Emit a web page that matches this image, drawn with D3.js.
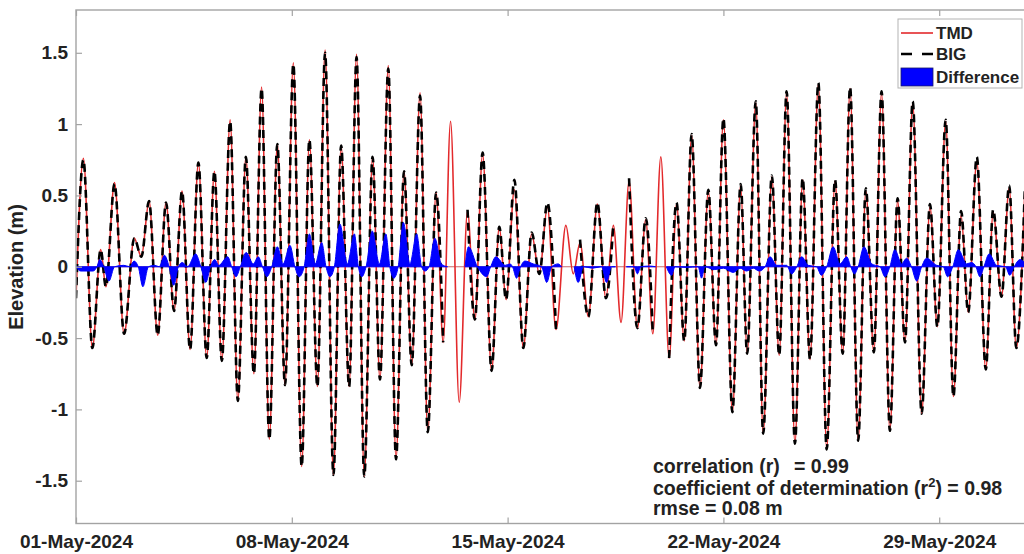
<!DOCTYPE html>
<html>
<head>
<meta charset="utf-8">
<script src="https://cdn.jsdelivr.net/npm/d3@7"></script>
<style>
  body { margin: 0; background: #fff; }
  svg { display: block; font-family: "Liberation Sans", Arial, sans-serif; }
</style>
</head>
<body>
<svg width="1024" height="554"></svg>
<script>
// times are days after 01-May-2024 00:00 (UTC)
extDay = [0.00,0.24,0.53,0.80,0.97,1.25,1.56,1.89,2.12,2.37,2.65,2.92,3.18,3.44,3.70,3.97,4.24,4.49,4.73,5.00,
  5.25,5.51,5.77,6.02,6.27,6.53,6.78,7.05,7.32,7.57,7.83,8.08,8.35,8.60,8.86,9.10,9.35,9.62,9.86,10.13,
  10.38,10.64,10.89,11.16,11.41,11.68,11.91,12.15,12.43,12.70,12.94,13.19,13.48,13.73,13.95,14.22,14.51,14.78,15.03,15.29,
  15.57,15.89,16.13,16.35,16.62,16.91,17.19,17.43,17.68,17.94,18.21,18.48,18.71,18.97,19.24,19.48,19.73,19.97,20.24,20.51,
  20.76,21.00,21.29,21.56,21.77,22.05,22.29,22.57,22.81,23.05,23.32,23.57,23.81,24.08,24.35,24.62,24.87,25.11,25.37,25.62,
  25.88,26.13,26.40,26.65,26.89,27.14,27.43,27.70,27.94,28.21,28.46,28.71,28.94,29.22,29.51,29.75,30.02,30.27,30.50,30.78];

tmdVal = [-0.22,0.76,-0.57,0.12,-0.14,0.59,-0.47,0.20,0.07,0.46,-0.48,0.45,-0.31,0.53,-0.58,0.73,-0.64,0.67,-0.66,1.03,
  -0.94,0.77,-0.75,1.26,-1.21,0.86,-0.83,1.43,-1.40,0.89,-0.84,1.52,-1.46,0.85,-0.84,1.49,-1.47,0.77,-0.79,1.41,
  -1.35,0.67,-0.69,1.22,-1.16,0.52,-0.53,1.02,-0.95,0.39,-0.37,0.79,-0.73,0.28,-0.23,0.54,-0.57,0.23,-0.05,0.42,
  -0.44,0.29,-0.05,0.17,-0.35,0.44,-0.22,0.29,-0.39,0.60,-0.43,0.33,-0.47,0.77,-0.64,0.44,-0.52,0.92,-0.85,0.53,
  -0.55,1.03,-1.02,0.57,-0.61,1.15,-1.17,0.63,-0.62,1.22,-1.24,0.61,-0.65,1.28,-1.28,0.60,-0.61,1.25,-1.22,0.53,
  -0.60,1.22,-1.15,0.46,-0.53,1.15,-1.03,0.42,-0.42,1.02,-0.91,0.36,-0.32,0.74,-0.72,0.38,-0.21,0.55,-0.57,0.55];

// null where the BIG record is missing
bigVal = [-0.22,0.75,-0.57,0.12,-0.14,0.58,-0.47,0.20,0.07,0.46,-0.48,0.45,-0.31,0.53,-0.58,0.73,-0.64,0.67,-0.66,1.02,
  -0.94,0.77,-0.75,1.25,-1.21,0.86,-0.83,1.42,-1.40,0.89,-0.84,1.50,-1.46,0.85,-0.84,1.47,-1.47,0.77,-0.79,1.39,
  -1.35,0.67,-0.69,1.20,-1.16,0.52,-0.53,null,null,0.40,-0.37,0.80,-0.73,0.28,-0.23,0.61,-0.57,0.24,-0.05,0.45,
  -0.44,null,null,0.19,-0.35,0.45,-0.22,0.30,null,0.62,-0.43,0.34,-0.47,null,-0.64,0.45,-0.52,0.93,-0.85,0.54,
  -0.55,1.04,-1.02,0.58,-0.61,1.16,-1.17,0.64,-0.62,1.23,-1.24,0.62,-0.65,1.29,-1.28,0.61,-0.61,1.26,-1.22,0.55,
  -0.60,1.23,-1.15,0.48,-0.53,1.16,-1.03,0.44,-0.42,1.03,-0.91,0.39,-0.32,0.77,-0.72,0.40,-0.21,0.57,-0.57,0.56];

diffDay = [0.00,0.15,0.55,0.68,0.77,0.90,1.07,1.25,1.55,1.75,1.88,2.02,2.17,2.35,2.55,2.70,2.87,3.02,3.17,3.32,
  3.45,3.62,3.88,4.05,4.21,4.36,4.50,4.63,4.92,5.05,5.19,5.33,5.52,5.75,5.91,6.05,6.19,6.35,6.53,6.72,
  6.94,7.10,7.24,7.40,7.57,7.76,7.97,8.11,8.24,8.38,8.56,8.80,9.03,9.16,9.27,9.41,9.61,9.84,10.05,10.18,
  10.31,10.45,10.62,10.83,11.05,11.21,11.32,11.45,11.64,11.85,12.05,12.30,12.62,12.73,13.02,13.32,13.45,13.62,13.92,14.08,
  14.16,14.29,14.42,14.56,14.83,15.10,15.27,15.43,15.64,15.75,16.00,16.16,16.29,16.46,16.75,17.05,17.21,17.37,17.50,17.68,
  17.85,18.10,18.21,18.32,18.60,18.80,18.97,19.15,19.32,19.43,19.80,20.18,20.29,20.40,20.70,21.00,21.32,21.54,21.75,21.97,
  22.16,22.35,22.51,22.73,23.05,23.21,23.38,23.54,23.75,24.02,24.18,24.35,24.56,24.78,25.00,25.13,25.25,25.37,25.56,25.81,
  26.08,26.24,26.40,26.56,26.78,26.94,27.10,27.27,27.43,27.59,27.92,28.13,28.27,28.44,28.62,28.89,29.05,29.19,29.32,29.45,
  29.62,29.86,30.15,30.29,30.43,30.62,30.80];

diffVal = [0,-0.03,-0.03,0,0.05,0,-0.10,0,0.01,0,0.04,0,-0.14,0,0.01,0,0.08,0,-0.13,0,
  0.03,0,0.09,0,-0.11,0,0.05,0.01,0.07,0,-0.07,0,0.10,0.02,0.07,0,-0.07,0,0.14,0.02,
  0.15,0,-0.07,0,0.23,0.02,0.17,0,-0.07,0,0.30,0.02,0.23,0,-0.07,0,0.25,0.02,0.23,0,
  -0.08,0,0.31,0.02,0.23,0,-0.03,0,0.20,0.02,0,null,0,0.14,0,-0.07,0,0.07,0.01,0.02,
  0,-0.08,0,0.04,0.02,0,-0.11,0,0.02,0,null,0,-0.11,0,-0.01,0,-0.11,0,0,null,
  0,0,-0.05,0,0.005,0,null,0,-0.06,0,-0.005,0,-0.08,0,-0.02,-0.01,-0.04,-0.01,-0.03,-0.01,
  -0.03,0,0.07,0.01,0.01,-0.05,0,0.07,0.01,0,-0.06,0,0.14,0.02,0.07,0,-0.05,0,0.14,0.02,
  0,-0.07,0,0.12,0.02,0.06,0,-0.10,0,0.06,0.01,0,-0.07,0,0.12,0.02,0.03,0,-0.07,0,
  0.09,0.01,0,-0.06,0,0.05,0.02];

tickDates = ["2024-05-01","2024-05-08","2024-05-15","2024-05-22","2024-05-29"];
yTicks = [-1.5,-1,-0.5,0,0.5,1,1.5];
statLines = ["correlation (r)", "= 0.99", "coefficient of determination (r", "2", ") = 0.98", "rmse = 0.08 m"];
legendNames = ["TMD", "BIG", "Difference"];

start = Date.UTC(2024, 4, 1);
toDate = d => new Date(start + d * 864e5);

left = 76; top_ = 10; bottom = 523.5; right = 1031.7;
frameColor = "#a3a3a3";
textColor = "#222";

x = d3.scaleUtc().domain([toDate(0), toDate(31)]).range([left, right]);
y = d3.scaleLinear().domain([-1.8, 1.8]).range([bottom, top_]);

tmd = extDay.map((d, i) => [toDate(d), tmdVal[i]]);
big = extDay.map((d, i) => [toDate(d), bigVal[i]]);
diff = diffDay.map((d, i) => [toDate(d), diffVal[i]]);

function draw() {
  const svg = d3.select("svg");

  svg.append("defs").append("clipPath").attr("id", "plot")
    .append("rect")
      .attr("x", left).attr("y", top_)
      .attr("width", right - left).attr("height", bottom - top_);

  const line = d3.line()
      .defined(d => d[1] !== null)
      .x(d => x(d[0]))
      .y(d => y(d[1]))
      .curve(d3.curveMonotoneX);

  const area = d3.area()
      .defined(d => d[1] !== null)
      .x(d => x(d[0]))
      .y0(y(0))
      .y1(d => y(d[1]))
      .curve(d3.curveMonotoneX);

  const g = svg.append("g").attr("clip-path", "url(#plot)");

  // thin zero line seen through the gaps
  g.append("line")
      .attr("x1", left).attr("x2", right)
      .attr("y1", y(0)).attr("y2", y(0))
      .attr("stroke", "#c96a6a").attr("stroke-width", 1);

  g.append("path")
      .datum(tmd)
      .attr("fill", "none")
      .attr("stroke", "#e3292b")
      .attr("stroke-width", 1.6)
      .attr("d", line);

  g.append("path")
      .datum(big)
      .attr("fill", "none")
      .attr("stroke", "#000")
      .attr("stroke-width", 2.6)
      .attr("stroke-dasharray", "8,5")
      .attr("d", line);

  g.append("path")
      .datum(diff)
      .attr("fill", "#0000ff")
      .attr("stroke", "#0000ff")
      .attr("stroke-width", 1)
      .attr("d", area);

  // frame
  svg.append("rect")
      .attr("x", left).attr("y", top_)
      .attr("width", right - left).attr("height", bottom - top_)
      .attr("fill", "none")
      .attr("stroke", frameColor)
      .attr("stroke-width", 1.4);

  const xTickVals = tickDates.map(s => new Date(s + "T00:00:00Z"));

  svg.append("g")
      .attr("transform", `translate(0,${bottom})`)
      .call(d3.axisBottom(x)
        .tickValues(xTickVals)
        .tickFormat(d3.utcFormat("%d-%b-%Y"))
        .tickSizeInner(-6).tickSizeOuter(0).tickPadding(11));

  svg.append("g")
      .attr("transform", `translate(0,${top_})`)
      .call(d3.axisTop(x)
        .tickValues(xTickVals)
        .tickFormat("")
        .tickSizeInner(-6).tickSizeOuter(0));

  svg.append("g")
      .attr("transform", `translate(${left},0)`)
      .call(d3.axisLeft(y)
        .tickValues(yTicks)
        .tickFormat(d => String(d))
        .tickSizeInner(-6).tickSizeOuter(0).tickPadding(8));

  svg.selectAll(".domain").remove();
  svg.selectAll(".tick line").attr("stroke", frameColor).attr("stroke-width", 1.2);
  svg.selectAll(".tick text")
      .attr("fill", textColor)
      .style("font-size", "19px")
      .style("font-weight", "bold")
      .style("font-family", "'Liberation Sans', Arial, sans-serif");

  svg.append("text")
      .attr("transform", "translate(23,267) rotate(-90)")
      .attr("text-anchor", "middle")
      .attr("fill", textColor)
      .style("font-size", "20px")
      .style("font-weight", "bold")
      .text("Elevation (m)");

  // statistics text
  const stats = svg.append("g")
      .attr("fill", textColor)
      .style("font-size", "19.5px")
      .style("font-weight", "bold");

  const l1 = stats.append("text").attr("x", 653).attr("y", 473);
  l1.append("tspan").text(statLines[0]);
  l1.append("tspan").attr("x", 794).text(statLines[1]);

  const l2 = stats.append("text").attr("x", 653).attr("y", 495);
  l2.append("tspan").text(statLines[2]);
  l2.append("tspan").attr("dy", -8).style("font-size", "13px").text(statLines[3]);
  l2.append("tspan").attr("dy", 8).text(statLines[4]);

  stats.append("text").attr("x", 653).attr("y", 515).text(statLines[5]);

  // legend
  const lg = svg.append("g");
  lg.append("rect")
      .attr("x", 898).attr("y", 19)
      .attr("width", 124).attr("height", 69)
      .attr("fill", "#fff")
      .attr("stroke", "#b3b3b3")
      .attr("stroke-width", 1);

  const rowY = [33, 54, 77];

  lg.append("line")
      .attr("x1", 901).attr("x2", 933)
      .attr("y1", rowY[0]).attr("y2", rowY[0])
      .attr("stroke", "#e3292b").attr("stroke-width", 1.6);

  lg.append("line")
      .attr("x1", 901).attr("x2", 933)
      .attr("y1", rowY[1]).attr("y2", rowY[1])
      .attr("stroke", "#000").attr("stroke-width", 2.6)
      .attr("stroke-dasharray", "11,10");

  lg.append("rect")
      .attr("x", 901).attr("y", rowY[2] - 9)
      .attr("width", 32).attr("height", 18)
      .attr("fill", "#0000ff")
      .attr("stroke", "#1a1a66").attr("stroke-width", 0.8);

  lg.selectAll("text.name")
    .data(legendNames)
    .join("text")
      .attr("class", "name")
      .attr("x", 936)
      .attr("y", (d, i) => rowY[i])
      .attr("dy", "0.36em")
      .attr("fill", textColor)
      .style("font-size", "17px")
      .style("font-weight", "bold")
      .text(d => d);
}
draw();
</script>
</body>
</html>
